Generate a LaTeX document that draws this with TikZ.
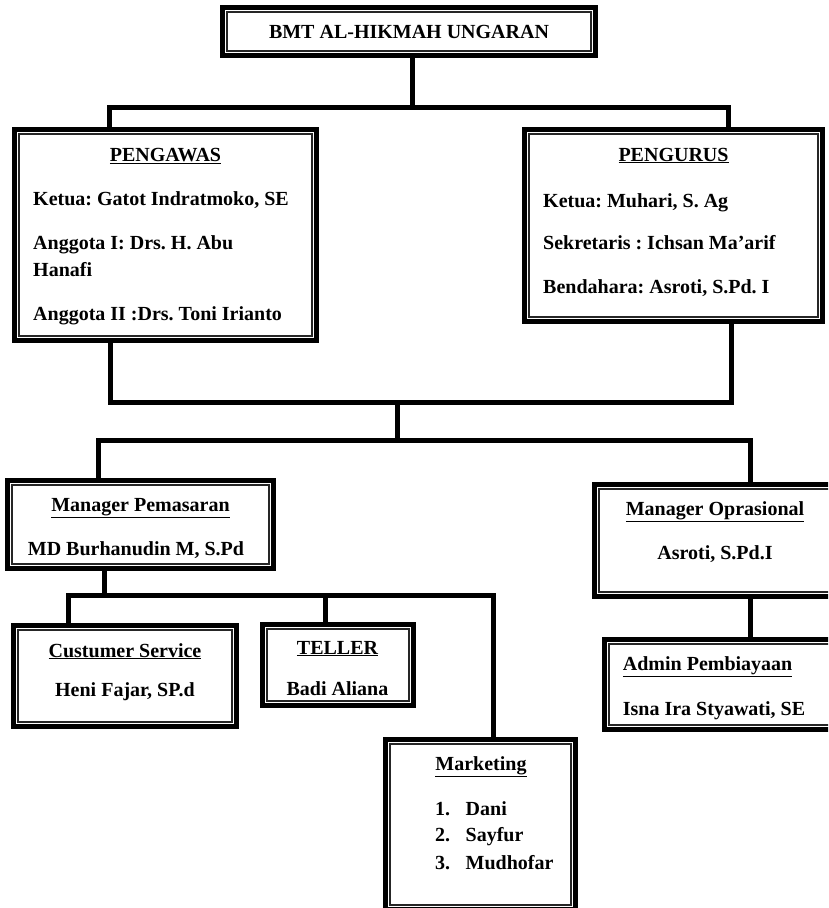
\documentclass[tikz,border=0pt]{standalone}
\usepackage{fontspec}
\setmainfont{Liberation Serif}
\frenchspacing
\begin{document}
\begin{tikzpicture}[x=1pt,y=-1pt,
  box/.style={draw=black, line width=5pt, rectangle, inner sep=0pt, fill=white,
    path picture={\draw[line width=1.2pt, black!85]
      ([shift={(4.5pt,4.5pt)}]path picture bounding box.south west) rectangle
      ([shift={(-4.5pt,-4.5pt)}]path picture bounding box.north east);}},
  txt/.style={font=\fontsize{20}{24}\selectfont\bfseries, inner sep=0pt, anchor=base},
  ltxt/.style={txt, anchor=base west},
  conn/.style={line width=5pt, line join=miter, line cap=rect}]
\useasboundingbox (0,0) rectangle (828,908);
\clip (0,0) rectangle (828,908);
\fill[white] (0,0) rectangle (828,908);

\coordinate (h1L) at (109,107);
\coordinate (h1M) at (412,107);
\coordinate (h1R) at (728,107);
\coordinate (h2L) at (110,402);
\coordinate (h2M) at (397,402);
\coordinate (h2R) at (731,402);
\coordinate (h3L) at (98,440);
\coordinate (h3M) at (397,440);
\coordinate (h3R) at (750,440);
\coordinate (h4S) at (104,595);
\coordinate (h4A) at (68,595);
\coordinate (h4B) at (325,595);
\coordinate (h4C) at (493,595);
\coordinate (h5) at (750,620);

% boxes
\node[box, minimum width=373pt, minimum height=48pt] (top) at (409,31.5) {};
\node[box, minimum width=302pt, minimum height=211pt] (pengawas) at (165.5,235) {};
\node[box, minimum width=298pt, minimum height=192pt] (pengurus) at (673.5,225.5) {};
\node[box, minimum width=266pt, minimum height=88pt] (pemasaran) at (140.5,524.5) {};
\node[box, minimum width=241pt, minimum height=112pt] (oprasional) at (715,540.5) {};
\node[box, minimum width=223pt, minimum height=101pt] (cs) at (125,676) {};
\node[box, minimum width=151pt, minimum height=81pt] (teller) at (338,665) {};
\node[box, minimum width=190pt, minimum height=170pt] (marketing) at (480.5,824.5) {};
\node[box, minimum width=238pt, minimum height=90pt] (admin) at (723.5,684.5) {};

% connectors
\draw[conn] (top.south -| h1M) -- (h1M);
\draw[conn] (pengawas.north -| h1L) -- (h1L) -- (h1R) -- (pengurus.north -| h1R);
\draw[conn] (pengawas.south -| h2L) -- (h2L) -- (h2R) -- (pengurus.south -| h2R);
\draw[conn] (h2M) -- (h3M);
\draw[conn] (pemasaran.north -| h3L) -- (h3L) -- (h3R) -- (oprasional.north -| h3R);
\draw[conn] (pemasaran.south -| h4S) -- (h4S);
\draw[conn] (cs.north -| h4A) -- (h4A) -- (h4C) -- (marketing.north -| h4C);
\draw[conn] (h4B) -- (teller.north -| h4B);
\draw[conn] (oprasional.south -| h5) -- (admin.north -| h5);

% texts
\node[txt] (ttop) at (409,38) {BMT AL-HIKMAH UNGARAN};

\node[txt] (tpgw) at (165.5,161) {\underline{PENGAWAS}};
\node[ltxt] (tpgw1) at (33,205) {Ketua: Gatot Indratmoko, SE};
\node[ltxt] (tpgw2) at (33,249) {Anggota I: Drs. H. Abu};
\node[ltxt] (tpgw3) at (33,276) {Hanafi};
\node[ltxt] (tpgw4) at (33,320) {Anggota II :Drs. Toni Irianto};

\node[txt] (tpgr) at (673.5,161) {\underline{PENGURUS}};
\node[ltxt] (tpgr1) at (543,207) {Ketua: Muhari, S. Ag};
\node[ltxt] (tpgr2) at (543,249) {Sekretaris : Ichsan Ma’arif};
\node[ltxt] (tpgr3) at (543,293) {Bendahara: Asroti, S.Pd. I};

\node[txt] (tpms) at (140.5,511) {\underline{Manager Pemasaran}};
\node[txt] (tpms1) at (136,555.5) {MD Burhanudin M, S.Pd};

\node[txt] (tops) at (715,515) {\underline{Manager Oprasional}};
\node[txt] (tops1) at (715,559) {Asroti, S.Pd.I};

\node[txt] (tcs) at (125,657) {\underline{Custumer Service}};
\node[txt] (tcs1) at (125,696) {Heni Fajar, SP.d};

\node[txt] (ttel) at (337.5,654) {\underline{TELLER}};
\node[txt] (ttel1) at (337.5,695) {Badi Aliana};

\node[txt] (tmkt) at (481,770.5) {\underline{Marketing}};
\node[ltxt] (tmkt1) at (435,815) {1.};
\node[ltxt] (tmkt1b) at (465.5,815) {Dani};
\node[ltxt] (tmkt2) at (435,841.5) {2.};
\node[ltxt] (tmkt2b) at (465.5,841.5) {Sayfur};
\node[ltxt] (tmkt3) at (435,869) {3.};
\node[ltxt] (tmkt3b) at (465.5,869) {Mudhofar};

\node[ltxt] (tadm) at (622.7,670) {\underline{Admin Pembiayaan}};
\node[ltxt] (tadm1) at (622.7,715) {Isna Ira Styawati, SE};
\end{tikzpicture}
\end{document}
